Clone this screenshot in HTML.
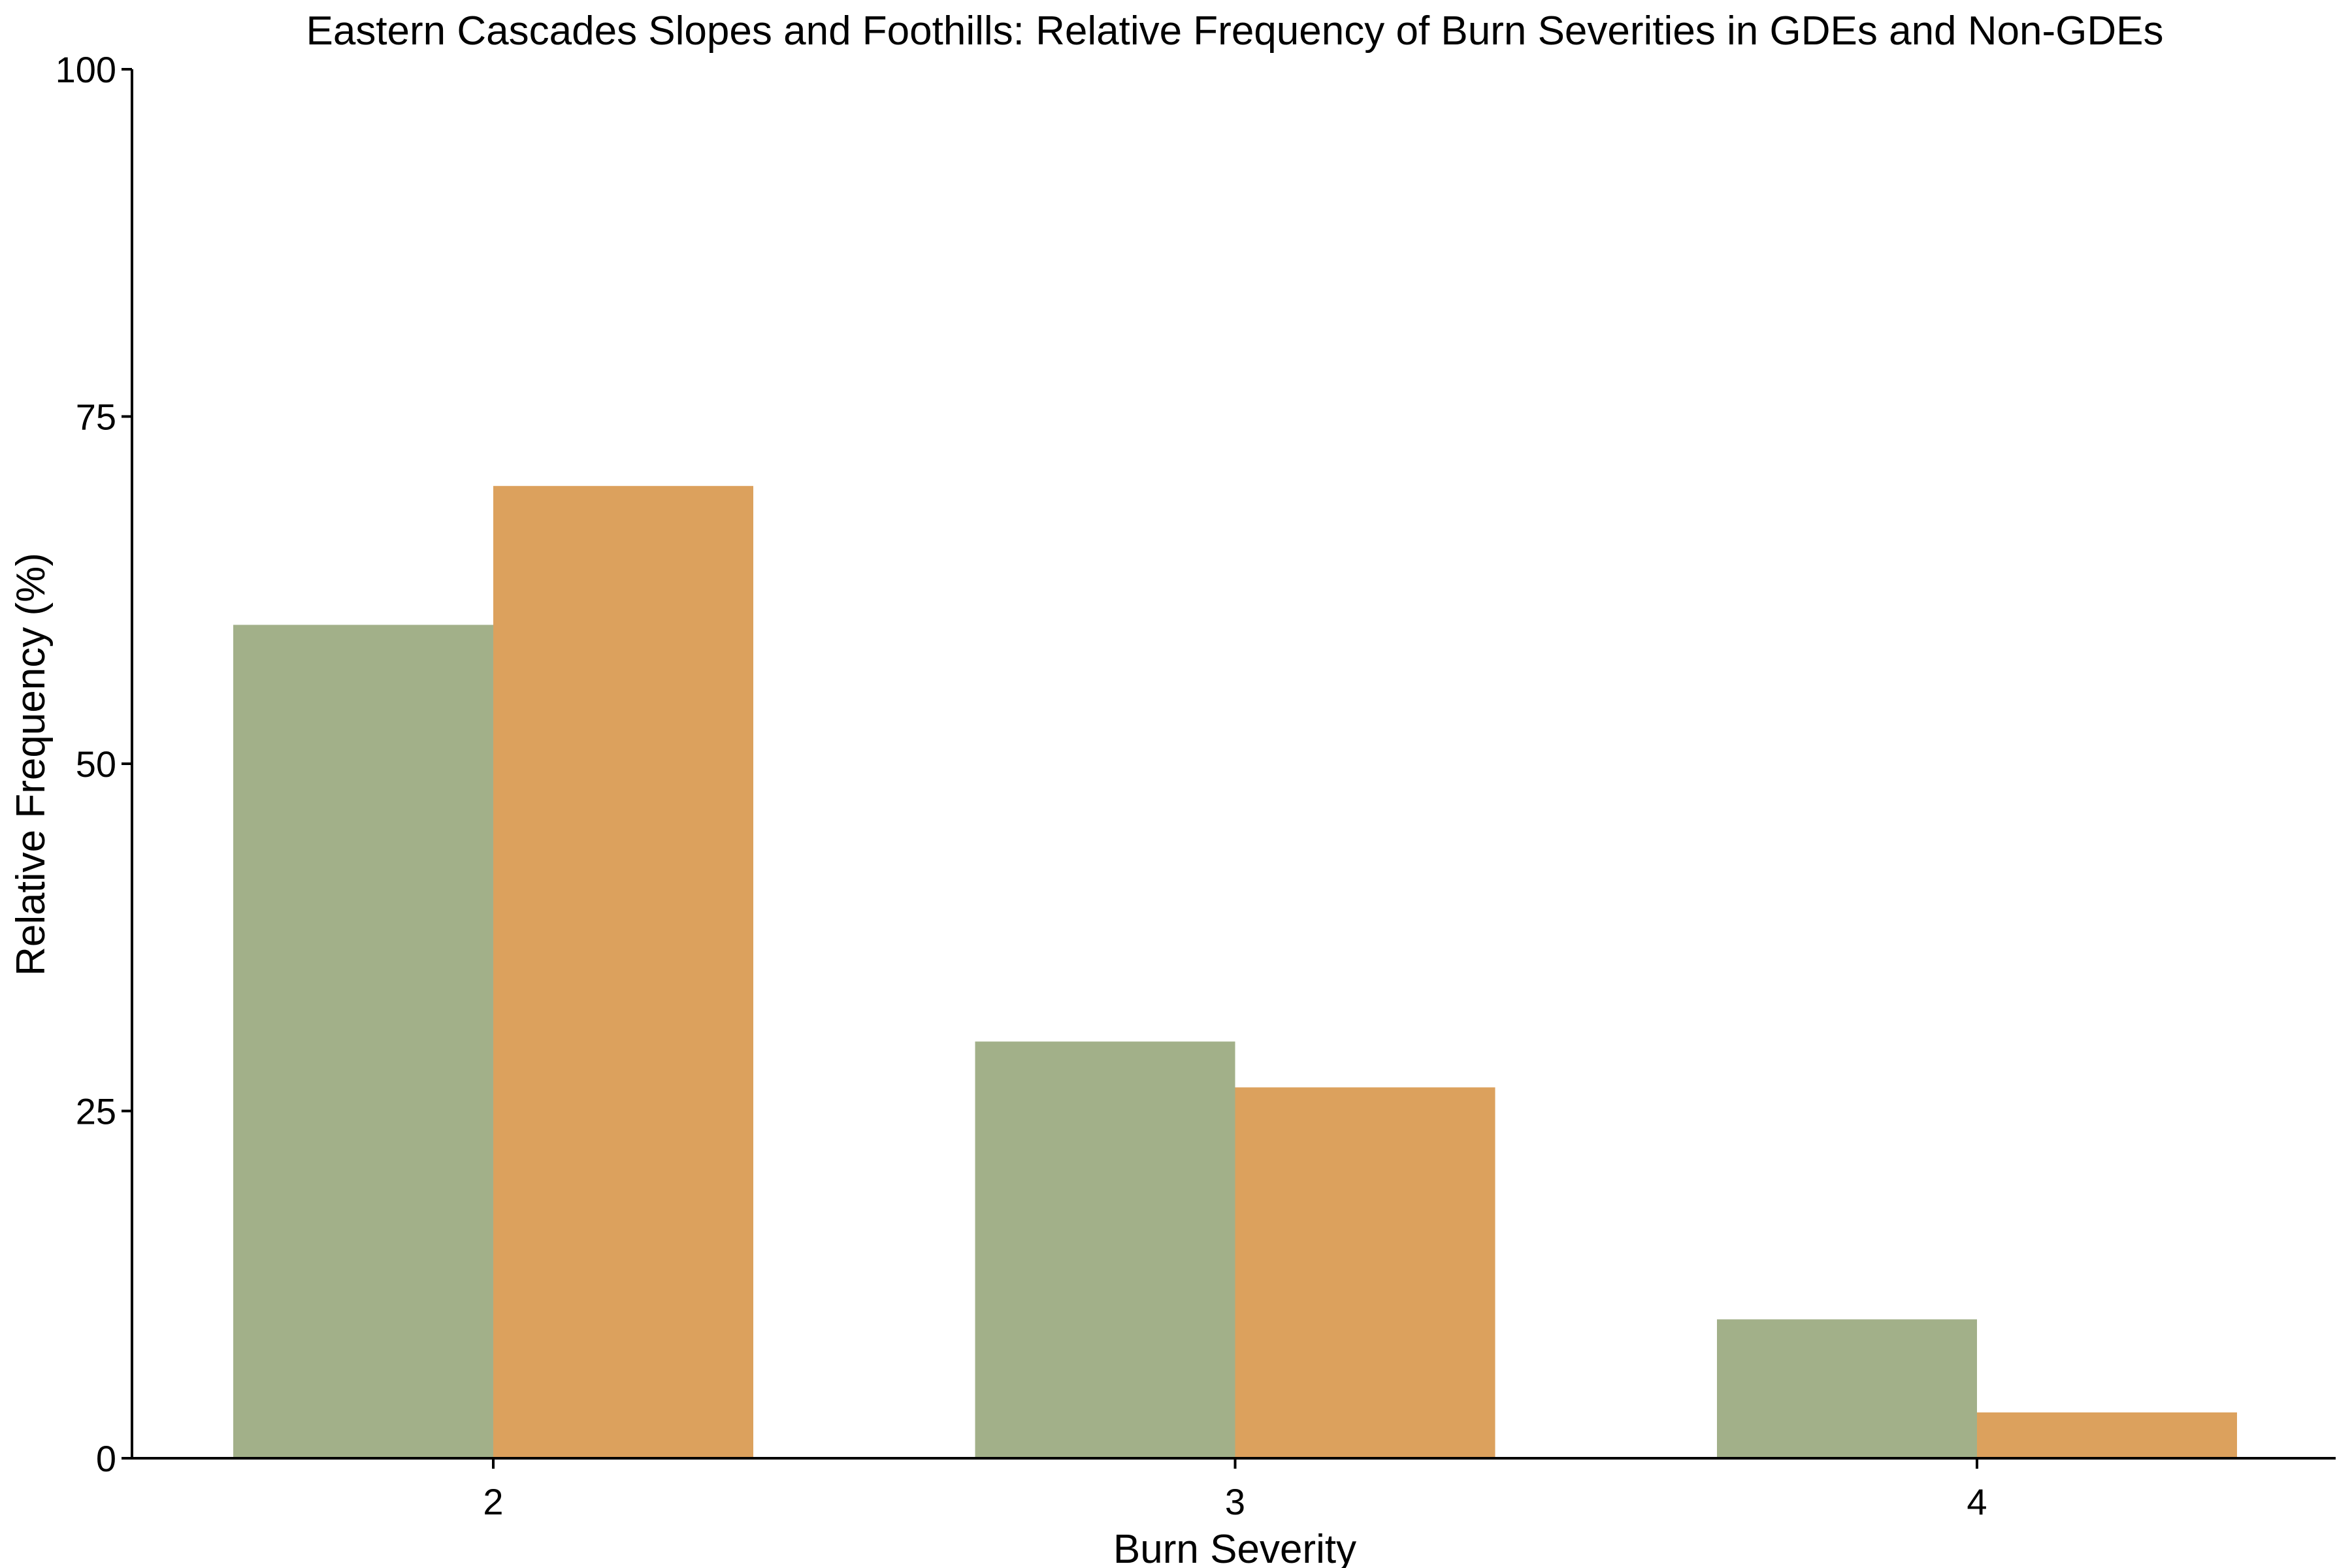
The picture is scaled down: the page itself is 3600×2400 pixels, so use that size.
<!DOCTYPE html>
<html><head><meta charset="utf-8">
<style>
html,body{margin:0;padding:0;background:#fff;}
svg{display:block;font-family:"Liberation Sans",sans-serif;}
</style></head>
<body>
<svg id="chart" width="3600" height="2400" viewBox="0 0 3600 2400">
<text x="1890" y="68" text-anchor="middle" font-size="62" fill="#000">Eastern Cascades Slopes and Foothills: Relative Frequency of Burn Severities in GDEs and Non-GDEs</text>
<g id="bars"></g>
<g id="axes"></g>
<text x="1890" y="2392" text-anchor="middle" font-size="62" fill="#000">Burn Severity</text>
<text transform="translate(68,1170) rotate(-90)" text-anchor="middle" font-size="62" fill="#000">Relative Frequency (%)</text>
</svg>
<script>
const categories = ["2", "3", "4"];
const gdeValues = [60, 30, 10];
const nonGdeValues = [70, 26.7, 3.3];
const yTicks = [0, 25, 50, 75, 100];

const NS = "http://www.w3.org/2000/svg";
const plotLeft = 202, plotRight = 3575, plotTop = 106, plotBottom = 2232;
const firstCenter = 755, spacing = 1135.5, barW = 398;
function xPos(i){ return firstCenter + i*spacing; }
function yPos(v){ return plotBottom - (v/100)*(plotBottom-plotTop); }
function mk(tag, attrs, parent){
  const e = document.createElementNS(NS, tag);
  for (const k in attrs) e.setAttribute(k, attrs[k]);
  parent.appendChild(e); return e;
}
const bars = document.getElementById("bars");
const axes = document.getElementById("axes");
categories.forEach((c, i) => {
  const cx = xPos(i);
  const g = mk("rect", {x: cx - barW, y: yPos(gdeValues[i]), width: barW, height: plotBottom - yPos(gdeValues[i]), fill: "#a2b089"}, bars);
  
  
  const o = mk("rect", {x: cx, y: yPos(nonGdeValues[i]), width: barW, height: plotBottom - yPos(nonGdeValues[i]), fill: "#dca15d"}, bars);
  
  
  const t = mk("line", {x1: cx, x2: cx, y1: plotBottom, y2: plotBottom + 16, stroke: "#000", "stroke-width": 4}, axes);
  
  
  const l = mk("text", {x: cx, y: 2318, "text-anchor": "middle", "font-size": 56, fill: "#000"}, axes);
  l.textContent = c;
  
  
});
yTicks.forEach(v => {
  const y = yPos(v);
  const t = mk("line", {x1: plotLeft - 16, x2: plotLeft, y1: y, y2: y, stroke: "#000", "stroke-width": 4}, axes);
  
  
  const l = mk("text", {x: plotLeft - 24, y: y + 20, "text-anchor": "end", "font-size": 56, fill: "#000"}, axes);
  l.textContent = v;
  
  
});
const ya = mk("line", {x1: plotLeft, x2: plotLeft, y1: plotTop, y2: plotBottom, stroke: "#000", "stroke-width": 4}, axes);


const xa = mk("line", {x1: plotLeft, x2: plotRight, y1: plotBottom, y2: plotBottom, stroke: "#000", "stroke-width": 4}, axes);


</script>
</body></html>
